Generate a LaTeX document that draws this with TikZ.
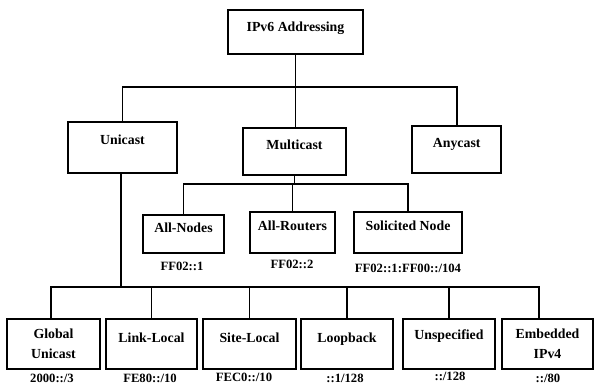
\documentclass[tikz,border=0pt]{standalone}
\usepackage{fontspec}
\setmainfont{Liberation Serif}
\usetikzlibrary{positioning,calc}

\begin{document}
\begin{tikzpicture}[
x=0.03cm, y=-0.03cm,
addrbox/.style={draw=black, line width=1.5pt, align=center, inner sep=2pt,
  font=\fontsize{11.8}{17}\selectfont\bfseries, text height=1.7ex, text depth=2.4ex},
twoline/.style={text height=, text depth=},
addrlabel/.style={font=\fontsize{10.8}{12}\selectfont\bfseries, inner sep=0pt},
branch/.style={line width=1.6pt}
]
\useasboundingbox (0,0) rectangle (594,385);

% top levels
\node[addrbox, minimum width=4.05cm, minimum height=1.34cm, text depth=1.9ex] (ipv6) at (295.5,32) {IPv6 Addressing};
\node[addrbox, minimum width=3.27cm, minimum height=1.53cm, text depth=2.9ex] (uni) at (122.5,147.5) {Unicast};
\node[addrbox, minimum width=3.09cm, minimum height=1.40cm] (multi) at (294.5,151.7) {Multicast};
\node[addrbox, minimum width=2.66cm, minimum height=1.41cm] (any) at (456.7,149.5) {Anycast};

% multicast scopes
\node[addrbox, minimum width=2.43cm, minimum height=1.14cm] (allnodes) at (183.5,234) {All-Nodes};
\node[addrbox, minimum width=2.55cm, minimum height=1.23cm] (allrouters) at (292.5,232.5) {All-Routers};
\node[addrbox, minimum width=3.24cm, minimum height=1.23cm] (solicited) at (408,232.5) {Solicited Node};

\node[addrlabel] (lnodes) at (182,266) {FF02::1};
\node[addrlabel] (lrouters) at (292,264) {FF02::2};
\node[addrlabel] (lsolicited) at (408,268) {FF02::1:FF00::/104};

% unicast types
\node[addrbox, twoline, minimum width=2.79cm, minimum height=1.5cm] (global) at (53.5,344) {Global\\Unicast};
\node[addrbox, minimum width=2.73cm, minimum height=1.5cm] (link) at (151.5,344) {Link-Local};
\node[addrbox, minimum width=2.79cm, minimum height=1.5cm] (site) at (249.5,344) {Site-Local};
\node[addrbox, minimum width=2.76cm, minimum height=1.5cm] (loop) at (347,344) {Loopback};
\node[addrbox, minimum width=2.76cm, minimum height=1.5cm, text depth=3.2ex] (unspec) at (449,344) {Unspecified};
\node[addrbox, twoline, minimum width=2.73cm, minimum height=1.5cm] (embed) at (547.5,344) {Embedded\\IPv4};

\node[addrlabel] (lglobal) at (52,378) {2000::/3};
\node[addrlabel] (llink) at (150,378) {FE80::/10};
\node[addrlabel] (lsite) at (244,377) {FEC0::/10};
\node[addrlabel] (lloop) at (345,378) {::1/128};
\node[addrlabel] (lunspec) at (450,376) {::/128};
\node[addrlabel] (lembed) at (548,378) {::/80};

% connectors
\coordinate (bus1) at (0,86.7);
\coordinate (bus2) at (0,184);
\coordinate (bus3) at (0,287);

\draw[branch] (ipv6.south) -- (ipv6.south |- multi.north);
\draw[branch] (uni.north) -- (uni.north |- bus1) -- (any.north |- bus1) -- (any.north);

\draw[branch] (multi.south) -- (multi.south |- bus2);
\draw[branch] (allnodes.north) -- (allnodes.north |- bus2) -- (solicited.north |- bus2) -- (solicited.north);
\draw[branch] (allrouters.north) -- (allrouters.north |- bus2);

\draw[branch] ([xshift=-0.04cm]uni.south) -- ([xshift=-0.04cm]uni.south |- bus3);
\draw[branch] ([xshift=-0.07cm]global.north) -- ([xshift=-0.07cm]global.north |- bus3)
  -- ([xshift=-0.25cm]embed.north |- bus3) -- ([xshift=-0.25cm]embed.north);
\foreach \t in {link,site,loop,unspec}
  \draw[branch] (\t.north) -- (\t.north |- bus3);
\end{tikzpicture}
\end{document}
